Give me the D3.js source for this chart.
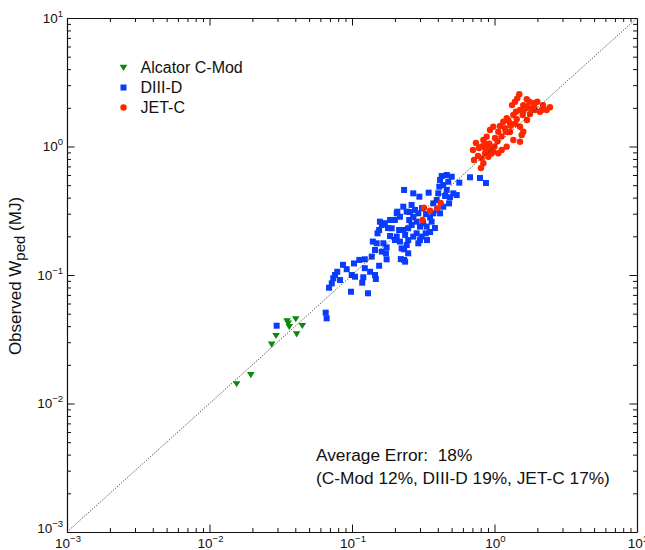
<!DOCTYPE html>
<html>
<head>
<meta charset="utf-8">
<script src="https://cdn.jsdelivr.net/npm/d3@7"></script>
<style>
  body { margin: 0; background: #fff; }
  svg { display: block; }
</style>
</head>
<body>
<div id="chart"></div>
<script>
// decades shown on both axes (labels are 10^exp)
let tickExps = [-3, -2, -1, 0, 1];
let legendNames = ["Alcator C-Mod", "DIII-D", "JET-C"];
let errorLines = ["Average Error:  18%", "(C-Mod 12%, DIII-D 19%, JET-C 17%)"];

// [predicted, observed] Wped in MJ
let cmod = [
  [0.0155, 0.0142], [0.0195, 0.0167], [0.0273, 0.0289], [0.0293, 0.0337],
  [0.0357, 0.0421], [0.0363, 0.0396], [0.0403, 0.0455], [0.0448, 0.0403],
  [0.0409, 0.0347], [0.035, 0.0439]
];

let diiid = [
  [0.0296, 0.0403], [0.0654, 0.0509], [0.0664, 0.046], [0.0984, 0.0741],
  [0.1295, 0.0721], [0.069, 0.0796], [0.0721, 0.0861], [0.0739, 0.0942],
  [0.076, 0.1], [0.0788, 0.106], [0.0824, 0.0914], [0.0918, 0.111],
  [0.0995, 0.1], [0.105, 0.097], [0.1033, 0.123], [0.1125, 0.131],
  [0.123, 0.1325], [0.118, 0.0871], [0.12, 0.096], [0.134, 0.106],
  [0.145, 0.1], [0.147, 0.0931], [0.155, 0.118], [0.1375, 0.139],
  [0.145, 0.1565], [0.14, 0.182], [0.149, 0.1765], [0.166, 0.1765],
  [0.175, 0.164], [0.162, 0.152], [0.173, 0.1475], [0.175, 0.1325],
  [0.151, 0.211], [0.155, 0.224], [0.162, 0.245], [0.157, 0.26],
  [0.17, 0.253], [0.185, 0.268], [0.19, 0.231], [0.2, 0.268],
  [0.206, 0.302], [0.217, 0.284], [0.214, 0.224], [0.206, 0.199],
  [0.217, 0.182], [0.223, 0.161], [0.232, 0.1585], [0.242, 0.171],
  [0.248, 0.187], [0.236, 0.205], [0.229, 0.224], [0.248, 0.231],
  [0.262, 0.245], [0.252, 0.268], [0.269, 0.284], [0.284, 0.26],
  [0.3, 0.238], [0.316, 0.253], [0.334, 0.238], [0.329, 0.211],
  [0.292, 0.1765], [0.269, 0.199], [0.284, 0.211], [0.229, 0.34],
  [0.262, 0.351], [0.277, 0.321], [0.292, 0.302], [0.242, 0.311],
  [0.208, 0.311], [0.232, 0.459], [0.269, 0.432], [0.297, 0.407],
  [0.345, 0.437], [0.372, 0.361], [0.393, 0.383], [0.403, 0.432],
  [0.41, 0.487], [0.415, 0.549], [0.426, 0.589], [0.462, 0.6],
  [0.501, 0.582], [0.474, 0.532], [0.437, 0.501], [0.462, 0.459],
  [0.514, 0.432], [0.543, 0.419], [0.487, 0.403], [0.48, 0.361],
  [0.437, 0.34], [0.372, 0.302], [0.353, 0.281], [0.415, 0.302],
  [0.566, 0.523], [0.673, 0.576], [0.362, 0.26], [0.308, 0.199],
  [0.248, 0.1475], [0.232, 0.131], [0.22, 0.133], [0.236, 0.127],
  [0.791, 0.569], [0.871, 0.52], [0.3, 0.187], [0.336, 0.187],
  [0.353, 0.216], [0.382, 0.232], [0.331, 0.298], [0.31, 0.332],
  [0.2, 0.187], [0.185, 0.201], [0.179, 0.232], [0.255, 0.309],
  [0.45, 0.412], [0.395, 0.321], [0.123, 0.113], [0.0865, 0.12]
];

let jet = [
  [1.493, 2.55], [1.445, 2.37], [1.393, 2.23], [1.683, 2.33], [1.754, 2.23],
  [1.873, 2.17], [1.997, 2.23], [1.592, 2.1], [1.683, 2.04], [1.824, 1.98],
  [1.923, 1.923], [2.085, 1.866], [2.324, 1.923], [2.45, 2.02], [2.144, 1.923],
  [1.51, 1.923], [1.416, 1.866], [1.355, 1.758], [1.578, 1.758], [1.432, 1.628],
  [1.218, 1.657], [1.153, 1.56], [1.285, 1.515], [1.093, 1.444], [1.185, 1.386],
  [0.981, 1.426], [0.929, 1.344], [1.063, 1.303], [1.51, 1.426], [1.592, 1.303],
  [1.552, 1.229], [1.51, 1.09], [1.355, 1.124], [1.218, 0.997], [1.123, 0.939],
  [1.063, 0.885], [0.981, 0.911], [0.881, 1.192], [0.835, 1.124], [0.813, 1.0],
  [0.858, 0.885], [0.835, 0.74], [0.905, 0.833], [0.956, 0.968], [0.813, 0.809],
  [0.706, 0.939], [0.741, 1.065], [0.766, 0.843], [0.718, 0.785], [0.779, 0.973],
  [0.9, 1.027], [1.008, 1.164], [1.285, 1.297], [1.69, 1.608], [1.775, 1.79],
  [1.327, 2.1], [2.19, 2.1], [0.804, 0.68], [0.87, 0.95], [0.92, 1.05],
  [0.95, 0.88], [0.86, 1.05], [0.9, 0.92], [1.0, 1.0], [1.05, 1.1],
  [1.12, 1.2], [1.2, 1.3], [1.3, 1.45], [1.4, 1.5], [1.6, 1.9],
  [1.7, 2.0], [1.9, 2.05], [1.25, 1.6],
  [0.32, 0.334], [0.353, 0.316], [0.397, 0.33], [0.419, 0.363], [0.313, 0.268]
];

let font = "'Liberation Sans', Arial, Helvetica, sans-serif";
let width = 645, height = 550;
let plot = { left: 67, right: 637, top: 18, bottom: 532 };

let svg = d3.select("#chart").append("svg")
  .attr("width", width)
  .attr("height", height)
  .style("font-family", font);

let x = d3.scaleLog().domain([1e-3, 1e1]).range([plot.left, plot.right]);
let y = d3.scaleLog().domain([1e-3, 1e1]).range([plot.bottom, plot.top]);

let isMajor = d => Math.abs(Math.log10(d) - Math.round(Math.log10(d))) < 1e-6;
let majorLen = 7.5, minorLen = 4;

// box axes, ticks pointing inwards on all four sides
function boxAxis(axis, transform, attr) {
  let g = svg.append("g")
    .attr("transform", transform)
    .call(axis.tickFormat("").tickSize(-majorLen).tickSizeOuter(0));
  g.select(".domain").attr("stroke", "#111").attr("stroke-width", 1.2);
  g.selectAll(".tick line")
    .attr("stroke", "#111")
    .attr("stroke-width", 1)
    .each(function(d) {
      if (!isMajor(d)) {
        let v = +d3.select(this).attr(attr);
        d3.select(this).attr(attr, v * minorLen / majorLen);
      }
    });
}

boxAxis(d3.axisBottom(x), `translate(0,${plot.bottom})`, "y2");
boxAxis(d3.axisTop(x), `translate(0,${plot.top})`, "y2");
boxAxis(d3.axisLeft(y), `translate(${plot.left},0)`, "x2");
boxAxis(d3.axisRight(y), `translate(${plot.right},0)`, "x2");

let expText = e => (e < 0 ? "\u2212" + Math.abs(e) : String(e));

// x tick labels
let xl = svg.append("g").selectAll("text")
  .data(tickExps)
  .enter()
  .append("text")
  .attr("x", e => x(Math.pow(10, e)) + 1)
  .attr("y", 547.5)
  .attr("text-anchor", "middle")
  .attr("font-size", 13.5)
  .attr("fill", "#111");
xl.append("tspan").text("10");
xl.append("tspan").attr("dy", -6).attr("font-size", 9.5).text(e => expText(e));

// y tick labels
let yl = svg.append("g").selectAll("text")
  .data(tickExps)
  .enter()
  .append("text")
  .attr("x", 63)
  .attr("y", e => y(Math.pow(10, e)) + (e === -3 ? 1 : 4.5))
  .attr("text-anchor", "end")
  .attr("font-size", 13.5)
  .attr("fill", "#111");
yl.append("tspan").text("10");
yl.append("tspan").attr("dy", -6).attr("font-size", 9.5).text(e => expText(e));

// y axis title
let yt = svg.append("text")
  .attr("transform", "translate(21,276) rotate(-90)")
  .attr("text-anchor", "middle")
  .attr("font-size", 17)
  .attr("fill", "#111");
yt.append("tspan").text("Observed W");
yt.append("tspan").attr("dy", 4).attr("font-size", 15).text("ped");
yt.append("tspan").attr("dy", -4).text(" (MJ)");

let green = "#0a8a0a", blue = "#0a3cff", red = "#ff2600";
let triPath = "M-3.8,-2.8L3.8,-2.8L0,3.4Z";

// C-Mod triangles
svg.append("g").selectAll("path")
  .data(cmod)
  .enter()
  .append("path")
  .attr("d", triPath)
  .attr("transform", d => `translate(${x(d[0])},${y(d[1])})`)
  .attr("fill", green);

// DIII-D squares
svg.append("g").selectAll("rect")
  .data(diiid)
  .enter()
  .append("rect")
  .attr("x", d => x(d[0]) - 3)
  .attr("y", d => y(d[1]) - 3)
  .attr("width", 6)
  .attr("height", 6)
  .attr("fill", blue);

// JET-C circles
svg.append("g").selectAll("circle")
  .data(jet)
  .enter()
  .append("circle")
  .attr("cx", d => x(d[0]))
  .attr("cy", d => y(d[1]))
  .attr("r", 3.2)
  .attr("fill", red);

// y = x line
svg.append("line")
  .attr("x1", x(1e-3)).attr("y1", y(1e-3))
  .attr("x2", x(1e1)).attr("y2", y(1e1))
  .attr("stroke", "#111")
  .attr("stroke-width", 0.9)
  .attr("stroke-dasharray", "1,1.6");

// legend
let lg = svg.append("g").selectAll("g")
  .data(legendNames)
  .enter()
  .append("g")
  .attr("transform", (d, i) => `translate(123.5,${67.5 + i * 20})`);
lg.filter((d, i) => i === 0).append("path").attr("d", triPath).attr("fill", green);
lg.filter((d, i) => i === 1).append("rect")
  .attr("x", -3).attr("y", -3).attr("width", 6).attr("height", 6).attr("fill", blue);
lg.filter((d, i) => i === 2).append("circle").attr("r", 3.2).attr("fill", red);
lg.append("text")
  .attr("x", 17)
  .attr("y", 5.5)
  .attr("font-size", 16)
  .attr("fill", "#111")
  .text(d => d);

// error summary
svg.append("g").selectAll("text")
  .data(errorLines)
  .enter()
  .append("text")
  .attr("x", 316)
  .attr("y", (d, i) => 461 + i * 23)
  .attr("font-size", 17.3)
  .attr("fill", "#111")
  .attr("xml:space", "preserve")
  .style("white-space", "pre")
  .text(d => d);
</script>
</body>
</html>
